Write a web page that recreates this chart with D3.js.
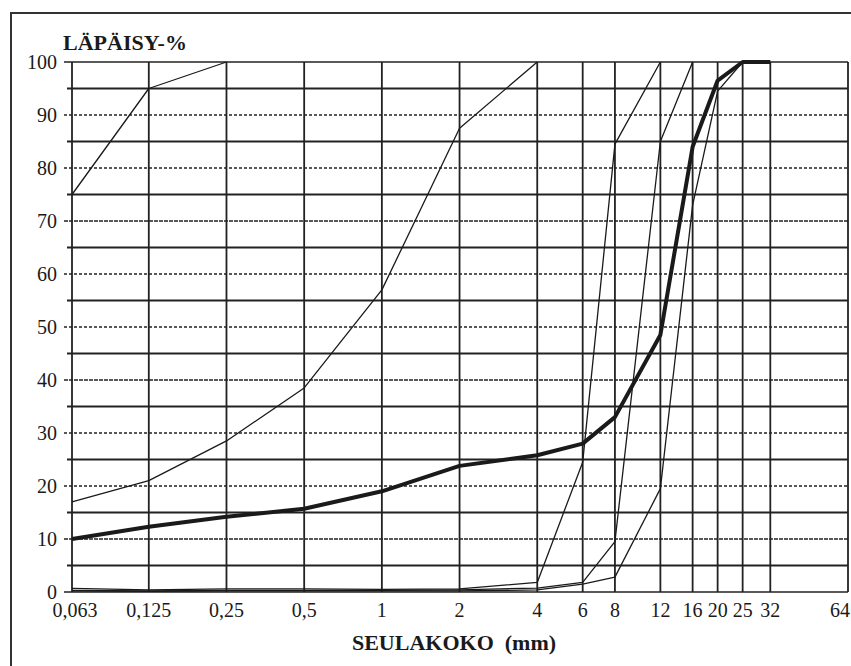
<!DOCTYPE html>
<html>
<head>
<meta charset="utf-8">
<script src="https://cdn.jsdelivr.net/npm/d3@7"></script>
<style>
  body { margin: 0; background: #fff; }
  text { font-family: "Liberation Serif", "Times New Roman", serif; fill: #1a1a1a; }
</style>
</head>
<body>
<div id="sieve_chart"></div>
<script>
// sieve sizes (mm) and their labels
const sieves = [0.063, 0.125, 0.25, 0.5, 1, 2, 4, 6, 8, 12, 16, 20, 25, 32, 64];
const sieveLabels = ["0,063", "0,125", "0,25", "0,5", "1", "2", "4", "6", "8", "12", "16", "20", "25", "32", "64"];
const yTicks = [0, 10, 20, 30, 40, 50, 60, 70, 80, 90, 100];

// passing % per sieve, null = no point
const fineUpper   = [75, 95, 100, null, null, null, null, null, null, null, null, null, null, null, null];
const fineLower   = [17, 21, 28.5, 38.5, 57, 87.5, 100, null, null, null, null, null, null, null, null];
const sample      = [10, 12.3, 14.2, 15.7, 19, 23.8, 25.8, 28, 33, 48.5, 84, 96.5, 100, 100, null];
const coarse6_12  = [0.7, 0.4, 0.6, 0.6, 0.5, 0.6, 1.8, 24.5, 84.5, 100, null, null, null, null, null];
const coarse8_16  = [0.3, 0.2, 0.3, 0.3, 0.3, 0.4, 0.75, 1.8, 9.5, 85, 100, null, null, null, null];
const coarse12_25 = [0.2, 0.1, 0.2, 0.2, 0.2, 0.2, 0.4, 1.5, 2.8, 19.5, 73, 94.5, 100, null, null];

function SieveChart(id){
    const width = 851, height = 666;

    const svg = d3.select(id).append("svg")
                .attr("width", width).attr("height", height)
                .attr("viewBox", "0 0 851 666");

    svg.append("rect").attr("width", width).attr("height", height).style("fill", "#fff");

    // outer frame (only top and left are visible)
    svg.append("path")
        .attr("d", "M11,666V13H851")
        .style("fill", "none")
        .style("stroke", "#333")
        .style("stroke-width", 2);

    const x = d3.scaleLog().domain([0.063, 64]).range([72, 848]);
    const y = d3.scaleLinear().domain([0, 100]).range([592, 62]);

    const grid = svg.append("g");

    // horizontal lines every 5 %, solid on the fives, dotted on the tens
    const hLines = d3.range(0, 101, 5);
    grid.selectAll(".hline").data(hLines)
        .enter().append("line")
        .attr("class", "hline")
        .attr("x1", d => (d % 10 == 0) ? 64 : 67)
        .attr("x2", x.range()[1])
        .attr("y1", d => y(d)).attr("y2", d => y(d))
        .style("stroke", "#222")
        .style("stroke-width", d => (d % 10 == 0) ? 1.5 : 2)
        .style("stroke-dasharray", function(d){
            if (d == 0 || d == 100 || d % 10 != 0) {return null;}
            if (d == 10 || d == 40 || d == 70) {return "4,1";}
            return "3,2";
        });

    // vertical lines at each sieve
    grid.selectAll(".vline").data(sieves)
        .enter().append("line")
        .attr("class", "vline")
        .attr("x1", d => x(d)).attr("x2", d => x(d))
        .attr("y1", y(0)).attr("y2", y(100))
        .style("stroke", "#222")
        .style("stroke-width", 1.8);

    // y labels
    svg.selectAll(".ylabel").data(yTicks)
        .enter().append("text")
        .attr("class", "ylabel")
        .attr("x", 57)
        .attr("y", d => y(d) + 6.5)
        .attr("text-anchor", "end")
        .style("font-size", "20px")
        .text(d => d);

    // x labels
    svg.selectAll(".xlabel").data(sieves)
        .enter().append("text")
        .attr("class", "xlabel")
        .attr("x", (d, i) => (d == 64) ? 850 : x(d) + (i == 0 ? 3 : 0))
        .attr("y", 617)
        .attr("text-anchor", d => (d == 64) ? "end" : "middle")
        .style("font-size", "20px")
        .text((d, i) => sieveLabels[i]);

    // curves
    const lineGen = d3.line()
        .defined(d => d[1] != null)
        .x(d => x(d[0]))
        .y(d => y(d[1]));

    const curves = [
        {values: fineUpper, w: 1.3},
        {values: fineLower, w: 1.3},
        {values: coarse6_12, w: 1.3},
        {values: coarse8_16, w: 1.3},
        {values: coarse12_25, w: 1.3},
        {values: sample, w: 4}
    ];

    svg.append("g").selectAll("path")
        .data(curves)
        .enter().append("path")
        .attr("d", c => lineGen(sieves.map((s, i) => [s, c.values[i]])))
        .style("fill", "none")
        .style("stroke", "#1a1a1a")
        .style("stroke-width", c => c.w)
        .style("stroke-linejoin", "round");

    // titles
    svg.append("text")
        .attr("x", 63).attr("y", 50)
        .style("font-size", "22px")
        .style("font-weight", "bold")
        .text("LÄPÄISY-%");

    svg.append("text")
        .attr("x", 454).attr("y", 650)
        .attr("text-anchor", "middle")
        .style("font-size", "22px")
        .style("font-weight", "bold")
        .style("white-space", "pre")
        .text("SEULAKOKO  (mm)");

    return svg;
}

SieveChart("#sieve_chart");
</script>
</body>
</html>
